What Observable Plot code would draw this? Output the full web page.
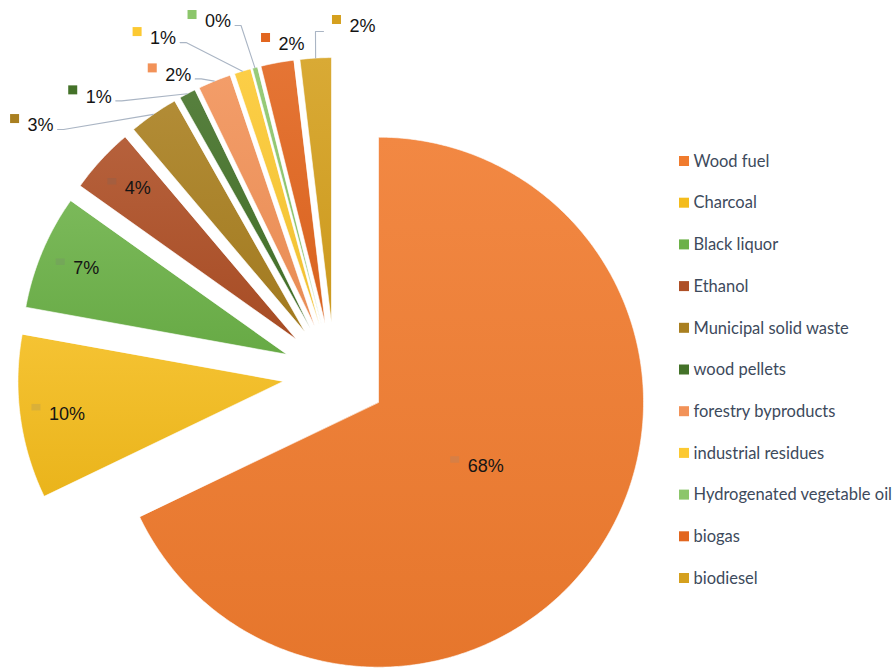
<!DOCTYPE html>
<html>
<head>
<meta charset="utf-8">
<script src="https://cdn.jsdelivr.net/npm/d3@7"></script>
<script src="https://cdn.jsdelivr.net/npm/@observablehq/plot@0.6"></script>
<style>
  html, body { margin: 0; padding: 0; background: #fff; }
  #chart svg { display: block; }
</style>
</head>
<body>
<div id="chart"></div>
<script>
// ---------- data ----------
const categories = ["Wood fuel", "Charcoal", "Black liquor", "Ethanol", "Municipal solid waste",
  "wood pellets", "forestry byproducts", "industrial residues", "Hydrogenated vegetable oil",
  "biogas", "biodiesel"];
const shares = [68, 10, 7, 4, 3, 1, 2, 1, 0.3, 2, 1.9];
const colors = ["#F07B2E", "#F4BC1C", "#6CB148", "#AE4F26", "#A97F20", "#447229",
  "#F29258", "#FCC932", "#8CC66B", "#E2661F", "#D5A01E"];

// ---------- layout ----------
const W = 895, H = 669;
const cx = 334, cy = 374, R = 265, explode = 52;
const insideLabels = [0, 1, 2, 3];
// outside label anchors (square centre), polar from pie centre: [degrees clockwise from north, distance px]
const outsidePolar = {4: [308.65, 409], 5: [317.4, 386], 6: [329.3, 356], 7: [330.1, 395],
  8: [338.45, 386.5], 9: [348.5, 343.4], 10: [0.4, 354.5]};
const noLeader = new Set([9]);
const legendX = 679, legendY0 = 161, legendStep = 41.7;

const total = d3.sum(shares);
const arcs = d3.pie().sort(null).value(d => d)(shares);
const slices = arcs.map((a, i) => {
  const mid = (a.startAngle + a.endAngle) / 2;
  return {i, name: categories[i], color: colors[i], start: a.startAngle, end: a.endAngle, mid,
    ox: explode * Math.sin(mid), oy: -explode * Math.cos(mid),
    pct: Math.round(shares[i] / total * 100) + "%"};
});

const polyRows = slices.flatMap(s => {
  const n = Math.max(3, Math.ceil((s.end - s.start) / 0.01));
  const pts = [{x: cx + s.ox, y: cy + s.oy}];
  for (let k = 0; k <= n; k++) {
    const a = s.start + (s.end - s.start) * k / n;
    pts.push({x: cx + s.ox + R * Math.sin(a), y: cy + s.oy - R * Math.cos(a)});
  }
  return pts.map(p => ({...p, name: s.name, fill: `url(#grad${s.i})`}));
});

const textW = t => t.length * 0 + [...t].reduce((w, ch) => w + (ch === "%" ? 16.0 : 10.0), 0);

const labelTexts = [], labelSquares = [], leaderRows = [];
slices.forEach(s => {
  const tw = textW(s.pct);
  if (insideLabels.includes(s.i)) {
    const f = s.i === 0 ? 0.44 : 0.855;
    const gx = cx + s.ox + f * R * Math.sin(s.mid);
    const gy = cy + s.oy - f * R * Math.cos(s.mid);
    const w = 9 + 8 + tw;
    const left = gx - w / 2;
    labelSquares.push({x1: left, x2: left + 9, y1: gy - 7.5, y2: gy - 1,
      fill: d3.interpolateRgb(s.color, "#8a8a8a")(0.25)});
    labelTexts.push({x: left + 17, y: gy + 2, text: s.pct});
  } else {
    const [deg, dist] = outsidePolar[s.i];
    const a = deg * Math.PI / 180;
    const sx = cx + dist * Math.sin(a), sy = cy - dist * Math.cos(a);
    labelSquares.push({x1: sx - 4.5, x2: sx + 4.5, y1: sy - 4.5, y2: sy + 4.5, fill: s.color});
    const tx = sx + 4.5 + 8, ty = sy + 6.5;
    labelTexts.push({x: tx, y: ty, text: s.pct});
    if (!noLeader.has(s.i)) {
      const ex = cx + s.ox + R * Math.sin(s.mid), ey = cy + s.oy - R * Math.cos(s.mid);
      let pts;
      if (sx < ex - 20) {
        const x0 = tx + tw + 4, y0 = ty + 4;
        pts = [[x0, y0], [x0 + 6, y0], [ex, ey]];
      } else {
        const x0 = sx - 4.5 - 9, y0 = ty + 5;
        pts = [[x0, y0], [x0 - 8, y0], [ex, ey]];
      }
      pts.forEach(([x, y]) => leaderRows.push({x, y, id: s.i}));
    }
  }
});

const legendRows = slices.map((s, k) => ({name: s.name, color: s.color, y: legendY0 + k * legendStep}));

const plot = Plot.plot({
  width: W, height: H, margin: 0,
  x: {type: "linear", domain: [0, W], range: [0, W], axis: null},
  y: {type: "linear", domain: [0, H], range: [0, H], axis: null},
  color: {type: "identity"},
  style: {background: "#fff", overflow: "visible"},
  marks: [
    Plot.line(polyRows, {x: "x", y: "y", z: "name", fill: "fill", stroke: "#fff", strokeWidth: 0.6, curve: "linear-closed"}),
    Plot.line(leaderRows, {x: "x", y: "y", z: "id", stroke: "#aab5c4", strokeWidth: 1.1, curve: "linear"}),
    Plot.rect(labelSquares, {x1: "x1", x2: "x2", y1: "y1", y2: "y2", fill: "fill"}),
    Plot.text(labelTexts, {x: "x", y: "y", text: "text", textAnchor: "start", fontSize: 18,
      fontFamily: "Liberation Sans, Arial, sans-serif", fill: "#141414"}),
    Plot.rect(legendRows, {x1: legendX, x2: legendX + 10, y1: d => d.y - 5, y2: d => d.y + 5, fill: "color"}),
    Plot.text(legendRows, {x: legendX + 14, y: "y", text: "name", textAnchor: "start", fontSize: 16.5,
      fontFamily: "Lato, sans-serif", fill: "#3d4a5c"})
  ]
});

const defs = d3.select(plot).insert("defs", ":first-child");
colors.forEach((c, i) => {
  const g = defs.append("linearGradient").attr("id", "grad" + i)
    .attr("x1", 0).attr("y1", 0).attr("x2", 0).attr("y2", 1);
  g.append("stop").attr("offset", "0%").attr("stop-color", d3.interpolateRgb(c, "#ffffff")(0.1));
  g.append("stop").attr("offset", "100%").attr("stop-color", d3.color(c).darker(0.12).formatHex());
});

document.getElementById("chart").appendChild(plot);
</script>
</body>
</html>
